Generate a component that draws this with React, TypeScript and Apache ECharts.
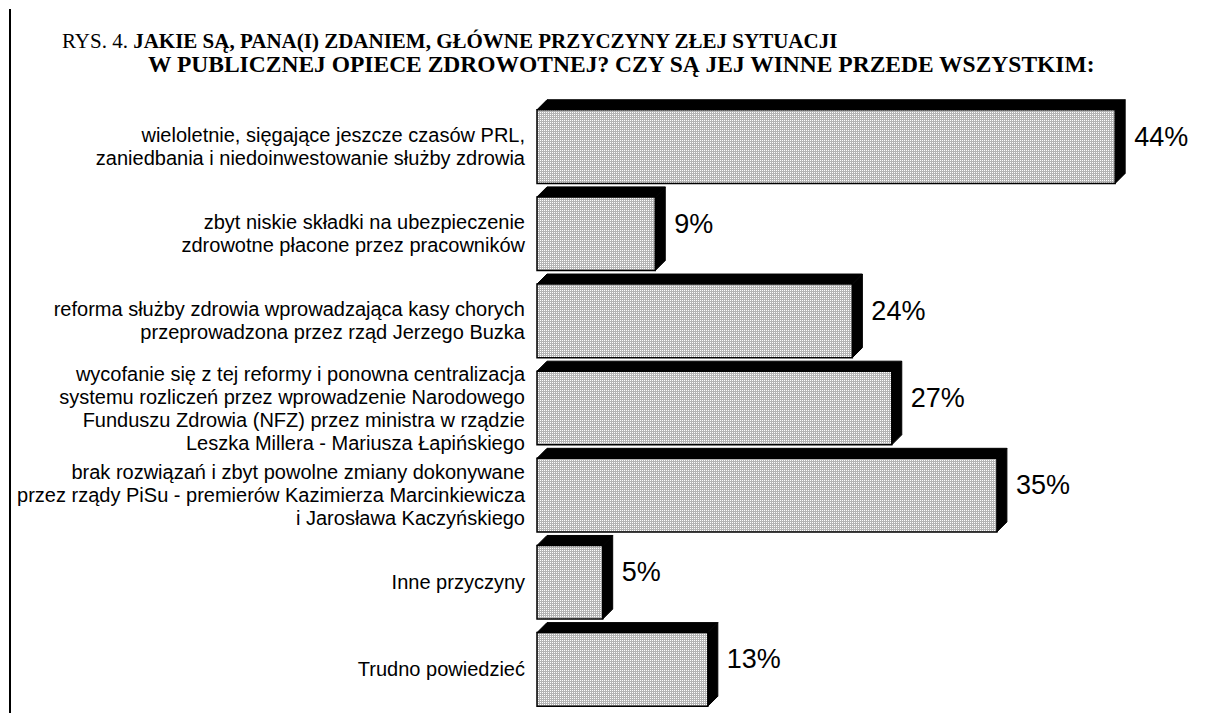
import React, { useEffect, useRef } from 'react';
import * as echarts from 'echarts';

const categories = [
  'wieloletnie, sięgające jeszcze czasów PRL,\nzaniedbania i niedoinwestowanie służby zdrowia',
  'zbyt niskie składki na ubezpieczenie\nzdrowotne płacone przez pracowników',
  'reforma służby zdrowia wprowadzająca kasy chorych\nprzeprowadzona przez rząd Jerzego Buzka',
  'wycofanie się z tej reformy i ponowna centralizacja\nsystemu rozliczeń przez wprowadzenie Narodowego\nFunduszu Zdrowia (NFZ) przez ministra w rządzie\nLeszka Millera - Mariusza Łapińskiego',
  'brak rozwiązań i zbyt powolne zmiany dokonywane\nprzez rządy PiSu - premierów Kazimierza Marcinkiewicza\ni Jarosława Kaczyńskiego',
  'Inne przyczyny',
  'Trudno powiedzieć',
];
const values = [44, 9, 24, 27, 35, 5, 13];

const titlePrefix = 'RYS. 4. ';
const titleLine1 = 'JAKIE SĄ, PANA(I) ZDANIEM, GŁÓWNE PRZYCZYNY ZŁEJ SYTUACJI';
const titleLine2 = 'W PUBLICZNEJ OPIECE ZDROWOTNEJ? CZY SĄ JEJ WINNE PRZEDE WSZYSTKIM:';

const SANS = '"Liberation Sans", Arial, sans-serif';
const SERIF = '"Liberation Serif", "Times New Roman", serif';

function makePattern(): any {
  const c = document.createElement('canvas');
  c.width = 2;
  c.height = 2;
  const ctx = c.getContext('2d')!;
  ctx.fillStyle = '#b4b4b4';
  ctx.fillRect(0, 0, 2, 2);
  ctx.fillStyle = '#ffffff';
  ctx.fillRect(0, 0, 1, 1);
  return { image: c, repeat: 'repeat', imageWidth: 2, imageHeight: 2 };
}

export default function App() {
  const ref = useRef<HTMLDivElement>(null);
  useEffect(() => {
    if (!ref.current) return;
    const chart = echarts.init(ref.current, undefined, { renderer: 'svg' });
    const pattern = makePattern();
    const depth = 10;
    chart.setOption({
      animation: false,
      backgroundColor: '#ffffff',
      grid: { left: 537, right: 14, top: 103, bottom: -5, containLabel: false },
      xAxis: {
        type: 'value',
        min: 0,
        max: 50,
        show: false,
      },
      yAxis: {
        type: 'category',
        data: categories,
        inverse: true,
        axisLine: { show: false },
        axisTick: { show: false },
        splitLine: { show: false },
        axisLabel: {
          color: '#000',
          fontFamily: SANS,
          fontSize: 20,
          lineHeight: 23,
          margin: 12,
          align: 'right',
        },
      },
      graphic: [
        {
          type: 'line',
          shape: { x1: 10, y1: 9, x2: 10, y2: 713 },
          style: { stroke: '#000', lineWidth: 2 },
        },
        {
          type: 'text',
          style: {
            x: 62,
            y: 41,
            verticalAlign: 'middle',
            text: '{n|' + titlePrefix + '}{b|' + titleLine1 + '}',
            rich: {
              n: { fontFamily: SERIF, fontSize: 21, fontWeight: 'normal', fill: '#000' },
              b: { fontFamily: SERIF, fontSize: 21, fontWeight: 'bold', fill: '#000' },
            },
          },
        },
        {
          type: 'text',
          style: {
            x: 148,
            y: 64,
            verticalAlign: 'middle',
            text: titleLine2,
            fontFamily: SERIF,
            fontSize: 23.5,
            fontWeight: 'bold',
            fill: '#000',
          },
        },
      ],
      series: [
        {
          type: 'custom',
          encode: { x: 1, y: 0 },
          data: values.map((v, i) => [i, v]),
          renderItem: (params: any, api: any) => {
            const idx = api.value(0);
            const val = api.value(1);
            const s = api.coord([0, idx]);
            const e = api.coord([val, idx]);
            const band = api.size([0, 1])[1];
            const h = band * 0.845;
            const x0 = s[0];
            const x1 = e[0];
            const yc = s[1];
            const y0 = yc - h / 2;
            const y1 = yc + h / 2;
            return {
              type: 'group',
              children: [
                {
                  type: 'polygon',
                  shape: { points: [[x0, y0], [x0 + depth, y0 - depth], [x1 + depth, y0 - depth], [x1, y0]] },
                  style: { fill: '#000', stroke: '#000', lineWidth: 1 },
                },
                {
                  type: 'polygon',
                  shape: { points: [[x1, y0], [x1 + depth, y0 - depth], [x1 + depth, y1 - depth], [x1, y1]] },
                  style: { fill: '#000', stroke: '#000', lineWidth: 1 },
                },
                {
                  type: 'rect',
                  shape: { x: x0, y: y0, width: x1 - x0, height: h },
                  style: { fill: pattern, stroke: '#000', lineWidth: 1.5 },
                },
                {
                  type: 'text',
                  style: {
                    text: val + '%',
                    x: x1 + depth + 9,
                    y: yc - 10,
                    verticalAlign: 'middle',
                    fill: '#000',
                    fontFamily: SANS,
                    fontSize: 27,
                  },
                },
              ],
            };
          },
        },
      ],
    });
    return () => chart.dispose();
  }, []);
  return (
    <div
      ref={ref}
      style={{ position: 'fixed', left: 0, top: 0, width: 1208, height: 713, background: '#fff' }}
    />
  );
}
